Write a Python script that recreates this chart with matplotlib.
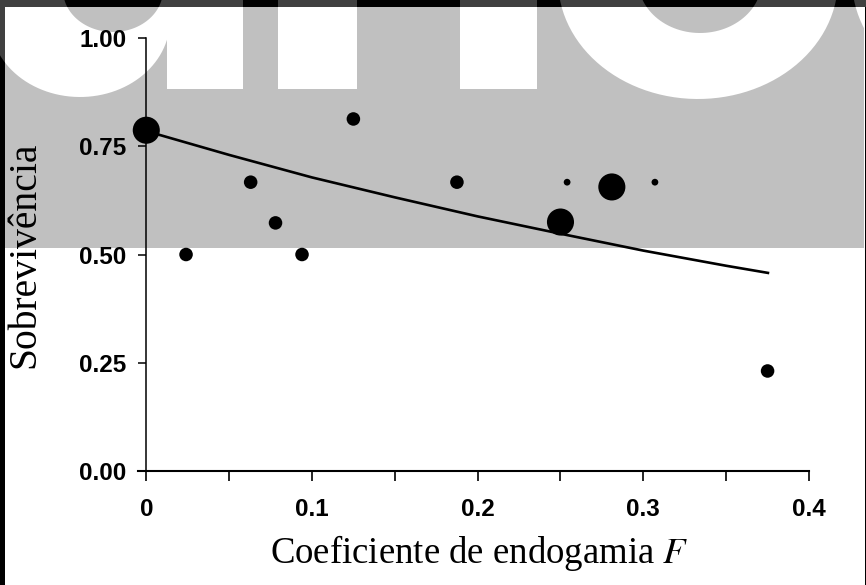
import numpy as np
import matplotlib
matplotlib.use("Agg")
import matplotlib.pyplot as plt
from matplotlib.patches import Rectangle, PathPatch
from matplotlib.path import Path
from matplotlib.transforms import Affine2D

# data
coef_F = [0.0, 0.024, 0.063, 0.078, 0.094, 0.125, 0.1875, 0.254, 0.25, 0.281, 0.307, 0.375]
sobrev = [0.787, 0.50, 0.667, 0.573, 0.50, 0.813, 0.667, 0.667, 0.575, 0.656, 0.667, 0.231]
peso = [4, 1, 1, 1, 1, 1, 1, 0.25, 4, 4, 0.25, 1]
ajuste_F = [0.0, 0.05, 0.10, 0.15, 0.20, 0.25, 0.30, 0.35, 0.376]
ajuste_S = [0.785, 0.730, 0.678, 0.632, 0.588, 0.548, 0.509, 0.474, 0.457]
xticks = [0, 0.1, 0.2, 0.3, 0.4]
xtick_labels = ["0", "0.1", "0.2", "0.3", "0.4"]
yticks = [0, 0.25, 0.5, 0.75, 1.0]
ytick_labels = ["0.00", "0.25", "0.50", "0.75", "1.00"]

W, H = 866, 585
plt.rcParams["mathtext.fontset"] = "stix"
fig = plt.figure(figsize=(W / 100, H / 100), dpi=100)
fig.patch.set_facecolor("white")
px = Affine2D().scale(1 / W, -1 / H).translate(0, 1) + fig.transFigure  # pixel coords, top-left origin


def ellipse(cx, cy, a, b, rev=False, n=120):
    t = np.linspace(0, 2 * np.pi, n)
    if rev:
        t = t[::-1]
    return np.column_stack([cx + a * np.cos(t), cy + b * np.sin(t)])


def shape_path(outer, hole=None):
    verts = [outer]
    codes = [Path.MOVETO] + [Path.LINETO] * (len(outer) - 2) + [Path.CLOSEPOLY]
    if hole is not None:
        verts.append(hole)
        codes += [Path.MOVETO] + [Path.LINETO] * (len(hole) - 2) + [Path.CLOSEPOLY]
    return Path(np.vstack(verts), codes)


def rect_path(x0, y0, x1, y1):
    return Path([(x0, y0), (x1, y0), (x1, y1), (x0, y1), (x0, y0)],
                [Path.MOVETO, Path.LINETO, Path.LINETO, Path.LINETO, Path.CLOSEPOLY])


# bottoms of the big watermark letters
letters = [
    shape_path(ellipse(80, 20, 90, 77), ellipse(113, -10, 50, 42, rev=True)),
    rect_path(167, -5, 243, 89),
    rect_path(278, -5, 357, 89),
    rect_path(460, -5, 537, 89),
    shape_path(ellipse(698, -20, 140, 119), ellipse(700, -20, 62, 53, rev=True)),
    shape_path(ellipse(992, -20, 140, 119)),
]


def draw_letters(color, clip, z):
    for p in letters:
        pp = PathPatch(p, facecolor=color, edgecolor="none", transform=px, zorder=z)
        fig.add_artist(pp)
        pp.set_clip_path(clip)


band = Rectangle((5, 7), 859, 241, facecolor="#c0c0c0", edgecolor="none", transform=px, zorder=-10)
fig.add_artist(band)
draw_letters("white", Rectangle((5, 7), 859, 241, transform=px), -9)
top_strip = (0, 0, 866, 7)
left_strip = (0, 0, 5, 585)
for (x0, y0, w, h) in [top_strip, left_strip, (864.5, 0, 1.5, 585)]:
    fig.add_artist(Rectangle((x0, y0), w, h, facecolor="black", edgecolor="none", transform=px, zorder=-8))
draw_letters("#404040", Rectangle((0, 0), 866, 7, transform=px), -7)
draw_letters("#404040", Rectangle((0, 0), 5, 248, transform=px), -7)

ax = fig.add_axes([138 / W, 1 - 471 / H, 671 / W, 433 / H])
ax.set_facecolor("none")

ax.plot(ajuste_F, ajuste_S, color="black", lw=1.9, zorder=2, solid_capstyle="butt")
ax.scatter(coef_F, sobrev, s=[95 * p for p in peso], color="black", linewidths=0, zorder=3, clip_on=False)

ax.set_xlim(-0.005, 0.4)
ax.set_ylim(0, 1)
ax.spines["top"].set_visible(False)
ax.spines["right"].set_visible(False)
ax.spines["left"].set_position(("data", 0))
ax.spines["left"].set_linewidth(1.1)
ax.spines["bottom"].set_linewidth(1.5)

tick_font = dict(family="Liberation Sans", weight="bold", size=17.5)
ax.set_xticks(xticks)
ax.set_xticklabels(xtick_labels, fontdict=tick_font)
ax.set_xticks([0.05, 0.15, 0.25, 0.35], minor=True)
ax.set_yticks(yticks)
ax.set_yticklabels(ytick_labels, fontdict=tick_font)
ax.tick_params(axis="x", which="both", length=7, width=1.2, pad=12.5, direction="out")
ax.tick_params(axis="y", length=6, width=1.1, pad=8.5, direction="out")

label_font = dict(family="Liberation Serif", size=26.5)
ax.set_xlabel("Coeficiente de endogamia $F$", fontdict=label_font)
ax.xaxis.set_label_coords(0.508, -0.143)
ax.set_ylabel("Sobrevivência", fontdict=dict(family="Liberation Serif", size=28.5))
ax.yaxis.set_label_coords(-0.141, 0.5)

fig.savefig("out.png", dpi=100)
